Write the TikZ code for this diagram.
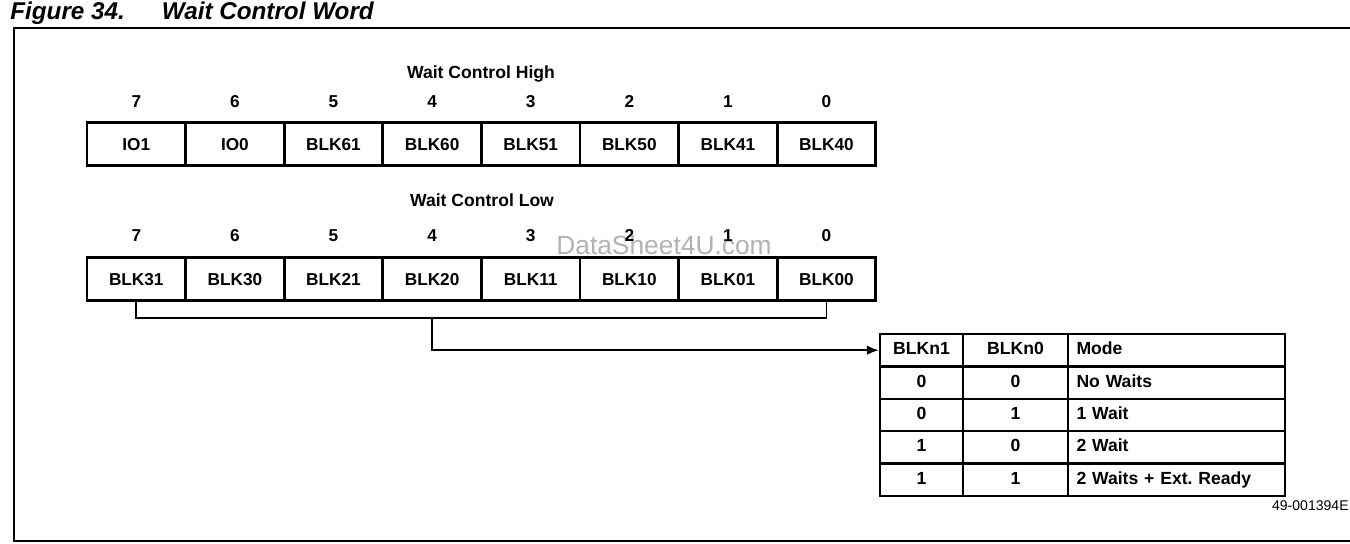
\documentclass[tikz,border=0pt]{standalone}
\usepackage{fontspec}
\setmainfont{Liberation Sans}
\usepackage{tikz}
\usetikzlibrary{arrows.meta, positioning}
\tikzset{
  regcell/.style={rectangle, draw=black, line width=1.5pt, inner sep=0pt,
                  minimum width=19.72mm, minimum height=8.6mm,
                  text height=7pt, text depth=0pt,
                  font=\fontsize{9.8}{11}\selectfont\bfseries},
  bitnum/.style={inner sep=1pt, text height=7pt, text depth=0pt,
                 font=\fontsize{9.8}{11}\selectfont\bfseries},
  reglabel/.style={inner sep=1pt, font=\fontsize{10}{12}\selectfont\bfseries},
  tcell/.style={rectangle, draw=black, line width=1.3pt, inner sep=0pt,
                minimum height=6.48mm, text height=7pt, text depth=2pt,
                font=\fontsize{10}{12}\selectfont\bfseries},
  tbit1/.style={tcell, minimum width=16.6mm},
  tbit0/.style={tcell, minimum width=21mm},
  tmode/.style={tcell, minimum width=43.4mm, text width=40mm, align=left,
                inner xsep=1.7mm},
  wire/.style={draw=black, line width=1.1pt},
  arrow/.style={wire, -{Latex[length=2.4mm, width=1.9mm]}},
}

\begin{document}
\begin{tikzpicture}[
  x=0.2mm, y=-0.2mm,
  figtitle/.style={inner sep=0pt, anchor=base west,
                   font=\fontsize{13.8}{16}\selectfont\bfseries\itshape},
  docnum/.style={inner sep=0pt, anchor=east, font=\fontsize{8}{10}\selectfont},
  wmark/.style={inner sep=0pt, text=black!30, font=\fontsize{15}{18}\selectfont}
]
  \useasboundingbox (0,0) rectangle (1350,543);

  \node[figtitle] (title) at (10,19) {Figure 34.\hspace{21pt}Wait Control Word};
  \draw[wire] (1352,28) -- (14,28) -- (14,541) -- (1352,541);

  \node[wmark] (wm) at (664,245) {DataSheet4U.com};

  % Wait Control High
  \node[reglabel] (hilbl) at (481,74) {Wait Control High};
  \node[bitnum] (hb7) at (136.3,101) {7};
  \node[bitnum] (hb6) at (234.9,101) {6};
  \node[bitnum] (hb5) at (333.5,101) {5};
  \node[bitnum] (hb4) at (432.1,101) {4};
  \node[bitnum] (hb3) at (530.7,101) {3};
  \node[bitnum] (hb2) at (629.3,101) {2};
  \node[bitnum] (hb1) at (727.9,101) {1};
  \node[bitnum] (hb0) at (826.5,101) {0};

  \node[regcell] (io1) at (136.3,144) {IO1};
  \node[regcell] (io0) at (234.9,144) {IO0};
  \node[regcell] (b61) at (333.5,144) {BLK61};
  \node[regcell] (b60) at (432.1,144) {BLK60};
  \node[regcell] (b51) at (530.7,144) {BLK51};
  \node[regcell] (b50) at (629.3,144) {BLK50};
  \node[regcell] (b41) at (727.9,144) {BLK41};
  \node[regcell] (b40) at (826.5,144) {BLK40};

  % Wait Control Low
  \node[reglabel] (lolbl) at (482,200) {Wait Control Low};
  \node[bitnum] (lb7) at (136.3,235) {7};
  \node[bitnum] (lb6) at (234.9,235) {6};
  \node[bitnum] (lb5) at (333.5,235) {5};
  \node[bitnum] (lb4) at (432.1,235) {4};
  \node[bitnum] (lb3) at (530.7,235) {3};
  \node[bitnum] (lb2) at (629.3,235) {2};
  \node[bitnum] (lb1) at (727.9,235) {1};
  \node[bitnum] (lb0) at (826.5,235) {0};

  \node[regcell] (b31) at (136.3,279) {BLK31};
  \node[regcell] (b30) at (234.9,279) {BLK30};
  \node[regcell] (b21) at (333.5,279) {BLK21};
  \node[regcell] (b20) at (432.1,279) {BLK20};
  \node[regcell] (b11) at (530.7,279) {BLK11};
  \node[regcell] (b10) at (629.3,279) {BLK10};
  \node[regcell] (b01) at (727.9,279) {BLK01};
  \node[regcell] (b00) at (826.5,279) {BLK00};

  % mode table
  \node[tbit1] (t01) at (921.5,350.2) {BLKn1};
  \node[tbit0] (t02) at (1015.5,350.2) {BLKn0};
  \node[tmode] (t03) at (1176.5,350.2) {Mode};
  \node[tbit1] (t11) at (921.5,382.6) {0};
  \node[tbit0] (t12) at (1015.5,382.6) {0};
  \node[tmode] (t13) at (1176.5,382.6) {No Waits};
  \node[tbit1] (t21) at (921.5,415) {0};
  \node[tbit0] (t22) at (1015.5,415) {1};
  \node[tmode] (t23) at (1176.5,415) {1 Wait};
  \node[tbit1] (t31) at (921.5,447.4) {1};
  \node[tbit0] (t32) at (1015.5,447.4) {0};
  \node[tmode] (t33) at (1176.5,447.4) {2 Wait};
  \node[tbit1] (t41) at (921.5,479.8) {1};
  \node[tbit0] (t42) at (1015.5,479.8) {1};
  \node[tmode] (t43) at (1176.5,479.8) {2 Waits + Ext.\ Ready};

  \coordinate (brk) at (432.1,318);
  \draw[wire] (b31.south) |- (brk) -| (b00.south);
  \draw[arrow] (brk) |- (t01.west);

  \node[docnum] (docid) at (1349,506) {49-001394E};
\end{tikzpicture}
\end{document}
